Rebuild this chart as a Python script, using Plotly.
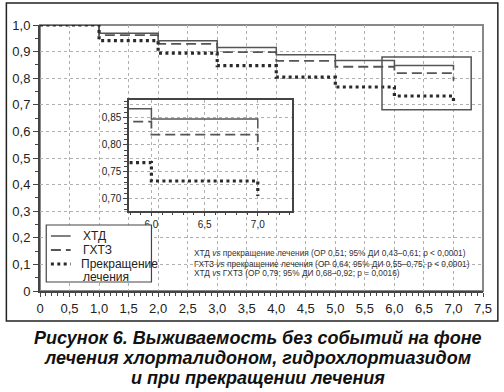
import plotly.graph_objects as go

# ---- data ----
times = [0, 1, 2, 3, 4, 5, 6, 7]
xtd = [1.0, 0.969, 0.941, 0.915, 0.888, 0.867, 0.848, 0.830]
ghtz = [1.0, 0.962, 0.929, 0.898, 0.865, 0.843, 0.819, 0.790]
stop = [1.0, 0.941, 0.894, 0.847, 0.804, 0.767, 0.733, 0.705]

series_names = ["ХТД", "ГХТЗ", "Прекращение лечения"]

x_ticks = [0, 0.5, 1.0, 1.5, 2.0, 2.5, 3.0, 3.5, 4.0, 4.5, 5.0, 5.5, 6.0, 6.5, 7.0, 7.5]
x_ticklabels = ["0", "0,5", "1,0", "1,5", "2,0", "2,5", "3,0", "3,5", "4,0", "4,5",
                "5,0", "5,5", "6,0", "6,5", "7,0", "7,5"]
y_ticks = [0, 0.1, 0.2, 0.3, 0.4, 0.5, 0.6, 0.7, 0.8, 0.9, 1.0]
y_ticklabels = ["0", "0,1", "0,2", "0,3", "0,4", "0,5", "0,6", "0,7", "0,8", "0,9", "1,0"]

inset_x_ticks = [6.0, 6.5, 7.0]
inset_x_ticklabels = ["6,0", "6,5", "7,0"]
inset_y_ticks = [0.70, 0.75, 0.80, 0.85]
inset_y_ticklabels = ["0,70", "0,75", "0,80", "0,85"]
inset_xrange = [5.79, 7.32]
inset_yrange = [0.678, 0.883]

stat_lines = [
    "ХТД <i>vs</i> прекращение лечения (ОР 0,51; 95% ДИ 0,43–0,61; p < 0,0001)",
    "ГХТЗ <i>vs</i> прекращение лечения (ОР 0,64; 95% ДИ 0,55–0,75; p < 0,0001)",
    "ХТД <i>vs</i> ГХТЗ (ОР 0,79; 95% ДИ 0,68–0,92; p = 0,0016)",
]
caption_lines = [
    "Рисунок 6. Выживаемость без событий на фоне",
    "лечения хлорталидоном, гидрохлортиазидом",
    "и при прекращении лечения",
]

FONT = "Liberation Sans, Arial, sans-serif"
styles = [
    dict(color="#555555", width=1.5, dash="solid"),
    dict(color="#555555", width=1.8, dash="10px,5px"),
    dict(color="#2a2a2a", width=3.2, dash="3px,3.4px"),
]
series = [xtd, ghtz, stop]

fig = go.Figure()
for name, ys, st in zip(series_names, series, styles):
    fig.add_trace(go.Scatter(x=times, y=ys, mode="lines", line_shape="hv",
                             line=st, name=name, showlegend=False,
                             xaxis="x", yaxis="y", hoverinfo="skip"))
for name, ys, st in zip(series_names, series, styles):
    fig.add_trace(go.Scatter(x=times, y=ys, mode="lines", line_shape="hv",
                             line=st, name=name, showlegend=False,
                             xaxis="x2", yaxis="y2", hoverinfo="skip"))

axis_common = dict(showgrid=True, gridcolor="#b0b0b0", griddash="dot", gridwidth=1,
                   zeroline=False, showline=True, linecolor="#444444", linewidth=2,
                   ticks="outside", tickcolor="#444444",
                   tickfont=dict(family=FONT, size=13, color="#222222"))

fig.update_layout(
    width=504, height=392,
    margin=dict(l=37, r=19, t=25, b=101),
    paper_bgcolor="white", plot_bgcolor="rgba(0,0,0,0)",
    xaxis=dict(**axis_common, range=[0, 7.5], tickmode="array", tickvals=x_ticks,
               ticktext=x_ticklabels, ticklen=4,
               minor=dict(tickmode="linear", tick0=0, dtick=0.1, ticks="outside",
                          ticklen=3, tickcolor="#444444", showgrid=False)),
    yaxis=dict(**axis_common, range=[0, 1.0], tickmode="array", tickvals=y_ticks,
               ticktext=y_ticklabels, ticklen=5,
               minor=dict(tickmode="linear", tick0=0, dtick=0.05, ticks="outside",
                          ticklen=3, tickcolor="#444444", showgrid=False)),
    xaxis2=dict(showgrid=True, gridcolor="#b0b0b0", griddash="dot", zeroline=False,
                showline=True, mirror=True, linecolor="#444444", linewidth=1.5,
                ticks="outside", ticklen=4, tickcolor="#444444",
                domain=[0.201, 0.5685], anchor="y2", range=inset_xrange,
                tickmode="array", tickvals=inset_x_ticks, ticktext=inset_x_ticklabels,
                tickfont=dict(family=FONT, size=10, color="#222222"),
                minor=dict(tickmode="linear", tick0=0, dtick=0.1, ticks="outside",
                           ticklen=3, tickcolor="#444444", showgrid=False)),
    yaxis2=dict(showgrid=True, gridcolor="#b0b0b0", griddash="dot", zeroline=False,
                showline=True, mirror=True, linecolor="#444444", linewidth=1.5,
                ticks="outside", ticklen=4, tickcolor="#444444",
                domain=[0.302, 0.718], anchor="x2", range=inset_yrange,
                tickmode="array", tickvals=inset_y_ticks, ticktext=inset_y_ticklabels,
                tickfont=dict(family=FONT, size=10, color="#222222"),
                minor=dict(tickmode="linear", tick0=0, dtick=0.01, ticks="outside",
                           ticklen=3, tickcolor="#444444", showgrid=False)),
    showlegend=False,
)

shapes = []
# main plot frame (gray top/right)
shapes.append(dict(type="rect", xref="paper", yref="paper", x0=0, y0=0, x1=1, y1=1,
                   line=dict(color="#888888", width=2), layer="below"))
# outer figure frame
shapes.append(dict(type="rect", xref="paper", yref="paper", x0=-0.0759, y0=-0.1128,
                   x1=1.0335, y1=1.0827, line=dict(color="#222222", width=1.5)))
# zoom box on main plot showing the inset region
shapes.append(dict(type="rect", xref="x", yref="y", x0=inset_xrange[0], x1=7.30,
                   y0=0.681, y1=0.880, line=dict(color="#555555", width=1.5)))
# legend box
shapes.append(dict(type="rect", xref="paper", yref="paper", x0=0.0141, y0=0.0338,
                   x1=0.2516, y1=0.2481, fillcolor="white",
                   line=dict(color="#444444", width=1.2), layer="above"))
leg_y = [0.2068, 0.1541, 0.1015]
for st, yy in zip(styles, leg_y):
    shapes.append(dict(type="line", xref="paper", yref="paper", x0=0.0246, x1=0.0692,
                       y0=yy, y1=yy, line=st, layer="above"))
fig.update_layout(shapes=shapes)

ann = []
leg_text = [("ХТД", 0.2068, 0.0930), ("ГХТЗ", 0.1541, 0.0930),
            ("Прекращение", 0.1015, 0.0870), ("лечения", 0.0526, 0.0930)]
for t, yy, xx in leg_text:
    ann.append(dict(text=t, xref="paper", yref="paper", x=xx, y=yy, xanchor="left",
                    yanchor="middle", showarrow=False,
                    font=dict(family=FONT, size=12, color="#222222")))
for t, yy in zip(stat_lines, [0.1429, 0.1015, 0.0658]):
    ann.append(dict(text=t, xref="paper", yref="paper", x=0.344, y=yy, xanchor="left",
                    yanchor="middle", showarrow=False,
                    font=dict(family=FONT, size=8.3, color="#333333")))
for t, yy in zip(caption_lines, [-0.1767, -0.2519, -0.3271]):
    ann.append(dict(text="<b><i>" + t + "</i></b>", xref="paper", yref="paper",
                    x=0.492, y=yy, xanchor="center", yanchor="middle", showarrow=False,
                    font=dict(family=FONT, size=18, color="#111111")))
fig.update_layout(annotations=ann)

fig.write_html("out.html", config={"displayModeBar": False},
               post_script="document.body.style.margin='0px';")
